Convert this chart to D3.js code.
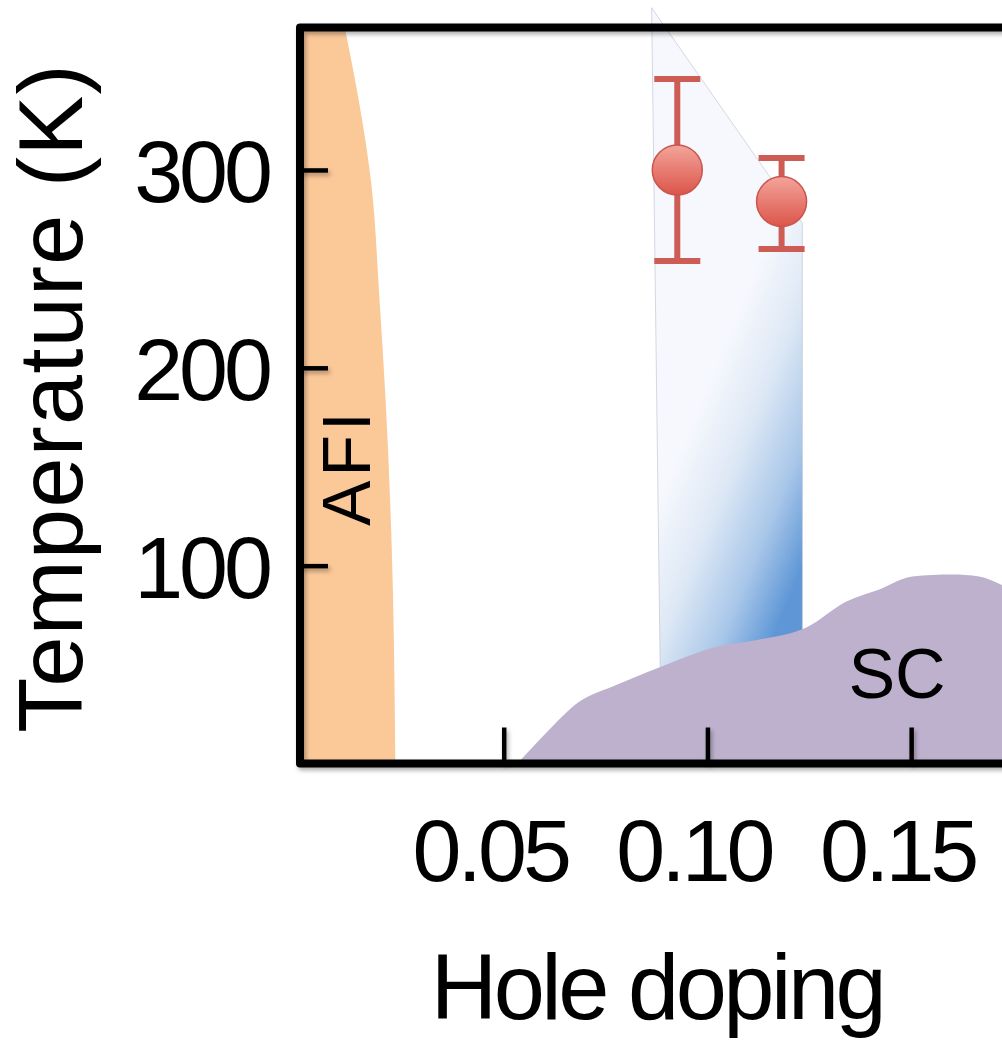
<!DOCTYPE html>
<html>
<head>
<meta charset="utf-8">
<script src="https://cdn.jsdelivr.net/npm/d3@7"></script>
<style>
  body { margin: 0; background: #fff; }
  text { font-family: "Liberation Sans", Arial, Helvetica, sans-serif; fill: #000; }
</style>
</head>
<body>
<script>
// ---- data ----
// antiferromagnetic insulator boundary (doping at given temperature)
let afiT = [372, 293, 235, 184, 117, 0];
let afiX = [0.0110, 0.0175, 0.0195, 0.0210, 0.0224, 0.0234];

// superconducting dome
let scX = [0.0534, 0.0605, 0.0686, 0.0767, 0.0850, 0.0931, 0.1022, 0.1128, 0.1243, 0.1341, 0.1422, 0.1503, 0.1600, 0.1667, 0.1720, 0.1760];
let scT = [0, 15.7, 31.3, 38.9, 46, 52.6, 59, 62.7, 68.8, 81.9, 88, 94.5, 95.5, 94.5, 90.5, 87];

// shaded band (left and right doping edge at given temperature)
let bandT = [382, 273, 0];
let bandLeft = [0.0863, 0.0870, 0.0887];
let bandRight = [0.0863, 0.1233, 0.1233];

// measured points with error bars
let pointX = [0.0926, 0.1182];
let pointT = [300, 284];
let pointLow = [254, 260];
let pointHigh = [346, 306];

let xTicks = [0.05, 0.10, 0.15];
let yTicks = [100, 200, 300];

// ---- layout ----
let margin = {left: 300, top: 27.5, bottom: 763.5, right: 1013};

let xScale = d3.scaleLinear().domain([0, 0.175]).range([margin.left, margin.right]);
let yScale = d3.scaleLinear().domain([0, 372]).range([margin.bottom, margin.top]);

let svg = d3.select("body").append("svg")
    .attr("width", 1002)
    .attr("height", 1040);

let defs = svg.append("defs");

// soft shadow under the frame and ticks (large region so nothing gets clipped)
let shadow = defs.append("filter").attr("id", "shadow")
    .attr("filterUnits", "userSpaceOnUse")
    .attr("x", -1200).attr("y", -1200).attr("width", 2400).attr("height", 2400);
shadow.append("feDropShadow")
    .attr("dx", 2).attr("dy", 3).attr("stdDeviation", 2)
    .attr("flood-color", "#000").attr("flood-opacity", 0.3);

// blue band gradient
let bandGrad = defs.append("linearGradient").attr("id", "bandGrad")
    .attr("gradientUnits", "userSpaceOnUse")
    .attr("x1", 660).attr("y1", 500).attr("x2", 805).attr("y2", 560);
[[0, "#f6f8fd"], [0.35, "#dde8f5"], [0.7, "#a9c7e9"], [1, "#5f97d6"]].forEach(function(s) {
  bandGrad.append("stop").attr("offset", s[0]).attr("stop-color", s[1]);
});

// marker fill
let dotGrad = defs.append("linearGradient").attr("id", "dotGrad")
    .attr("x1", 0).attr("y1", 0).attr("x2", 0).attr("y2", 1);
dotGrad.append("stop").attr("offset", 0).attr("stop-color", "#f3a49b");
dotGrad.append("stop").attr("offset", 1).attr("stop-color", "#dc5549");

// ---- regions ----
let afiArea = d3.area()
    .y(function(d, i) { return yScale(afiT[i]); })
    .x0(function() { return xScale(0); })
    .x1(function(d, i) { return xScale(afiX[i]); })
    .curve(d3.curveMonotoneY);

svg.append("path")
    .datum(afiT)
    .attr("d", afiArea)
    .attr("fill", "#fbc898");

let bandArea = d3.area()
    .y(function(d, i) { return yScale(bandT[i]); })
    .x0(function(d, i) { return xScale(bandLeft[i]); })
    .x1(function(d, i) { return xScale(bandRight[i]); });

svg.append("path")
    .datum(bandT)
    .attr("d", bandArea)
    .attr("fill", "url(#bandGrad)")
    .attr("stroke", "#b9c0cb")
    .attr("stroke-opacity", 0.6)
    .attr("stroke-width", 1);

let scArea = d3.area()
    .x(function(d, i) { return xScale(scX[i]); })
    .y0(yScale(0))
    .y1(function(d, i) { return yScale(scT[i]); })
    .curve(d3.curveMonotoneX);

svg.append("path")
    .datum(scX)
    .attr("d", scArea)
    .attr("fill", "#beb1ce");

// ---- error bars and points ----
let capW = 23;
let pts = svg.append("g").attr("stroke", "#cd5c55").attr("stroke-width", 6);

pts.selectAll(".stem")
    .data(pointX)
  .enter().append("line")
    .attr("x1", function(d) { return xScale(d); })
    .attr("x2", function(d) { return xScale(d); })
    .attr("y1", function(d, i) { return yScale(pointLow[i]); })
    .attr("y2", function(d, i) { return yScale(pointHigh[i]); });

pts.selectAll(".capTop")
    .data(pointX)
  .enter().append("line")
    .attr("x1", function(d) { return xScale(d) - capW; })
    .attr("x2", function(d) { return xScale(d) + capW; })
    .attr("y1", function(d, i) { return yScale(pointHigh[i]); })
    .attr("y2", function(d, i) { return yScale(pointHigh[i]); });

pts.selectAll(".capBottom")
    .data(pointX)
  .enter().append("line")
    .attr("x1", function(d) { return xScale(d) - capW; })
    .attr("x2", function(d) { return xScale(d) + capW; })
    .attr("y1", function(d, i) { return yScale(pointLow[i]); })
    .attr("y2", function(d, i) { return yScale(pointLow[i]); });

svg.selectAll(".dot")
    .data(pointX)
  .enter().append("circle")
    .attr("cx", function(d) { return xScale(d); })
    .attr("cy", function(d, i) { return yScale(pointT[i]); })
    .attr("r", 25)
    .attr("fill", "url(#dotGrad)")
    .attr("stroke", "#c9554d")
    .attr("stroke-width", 1.5);

// ---- region labels ----
svg.append("text")
    .attr("transform", "translate(370,467) rotate(-90)")
    .attr("text-anchor", "middle")
    .attr("font-size", 68)
    .attr("letter-spacing", 4)
    .text("AFI");

svg.append("text")
    .attr("x", 897)
    .attr("y", 698)
    .attr("text-anchor", "middle")
    .attr("font-size", 70)
    .text("SC");

// ---- frame and axes ----
svg.append("path")
    .attr("d", "M" + (margin.right + 20) + "," + margin.top + "H" + margin.left +
               "V" + margin.bottom + "H" + (margin.right + 20))
    .attr("fill", "none")
    .attr("stroke", "#000")
    .attr("stroke-width", 8)
    .attr("stroke-linejoin", "round")
    .attr("filter", "url(#shadow)");

let xAxis = svg.append("g")
    .attr("transform", "translate(0," + margin.bottom + ")")
    .call(d3.axisBottom(xScale)
      .tickValues(xTicks)
      .tickSizeInner(-36)
      .tickSizeOuter(0)
      .tickFormat(d3.format(".2f")));

let yAxis = svg.append("g")
    .attr("transform", "translate(" + margin.left + ",0)")
    .call(d3.axisLeft(yScale)
      .tickValues(yTicks)
      .tickSizeInner(-28)
      .tickSizeOuter(0));

[xAxis, yAxis].forEach(function(a) {
  a.select(".domain").remove();
  a.selectAll(".tick line")
      .attr("stroke", "#000")
      .attr("stroke-width", 4.5)
      .attr("filter", "url(#shadow)");
  a.selectAll(".tick text")
      .attr("font-family", "Liberation Sans, Arial, sans-serif")
      .attr("font-size", 88)
      .attr("letter-spacing", -4)
      .attr("fill", "#000");
});

xAxis.selectAll(".tick text")
    .attr("y", 117)
    .attr("dy", 0)
    .attr("dx", -14);

yAxis.selectAll(".tick text")
    .attr("x", -31)
    .attr("dy", "0.36em");

// axis titles
svg.append("text")
    .attr("x", 657)
    .attr("y", 1019)
    .attr("text-anchor", "middle")
    .attr("font-size", 92)
    .attr("letter-spacing", -3.5)
    .text("Hole doping");

svg.append("text")
    .attr("transform", "translate(82,398) rotate(-90)")
    .attr("text-anchor", "middle")
    .attr("font-size", 90)
    .attr("letter-spacing", 1.3)
    .text("Temperature (K)");
</script>
</body>
</html>
